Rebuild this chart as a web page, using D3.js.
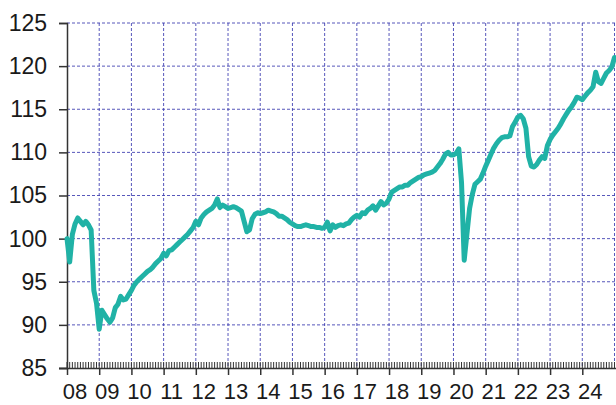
<!DOCTYPE html>
<html>
<head>
<meta charset="utf-8">
<script src="https://cdn.jsdelivr.net/npm/d3@7"></script>
<style>
  html, body { margin: 0; padding: 0; background: #fff; }
  svg { display: block; font-family: "Liberation Sans", Arial, sans-serif; }
</style>
</head>
<body>
<div id="chart"></div>
<script>
// monthly index values, Jan..Dec of each year
const v2008 = [100.0, 97.3, 100.5, 101.7, 102.4, 102.0, 101.6, 102.0, 101.6, 101.0, 94.0, 92.5];
const v2009 = [89.5, 91.7, 91.2, 90.7, 90.3, 90.8, 92.0, 92.4, 93.3, 92.9, 93.0, 93.5];
const v2010 = [94.0, 94.6, 95.0, 95.3, 95.6, 95.9, 96.2, 96.4, 96.7, 97.1, 97.4, 97.7];
const v2011 = [98.3, 98.0, 98.6, 98.7, 99.0, 99.3, 99.6, 99.9, 100.2, 100.5, 100.9, 101.3];
const v2012 = [102.0, 101.6, 102.4, 102.8, 103.1, 103.3, 103.5, 103.9, 104.6, 103.6, 103.9, 103.7];
const v2013 = [103.5, 103.6, 103.7, 103.6, 103.4, 103.2, 102.0, 100.8, 101.0, 102.3, 102.8, 103.0];
const v2014 = [102.9, 103.0, 103.1, 103.3, 103.2, 103.1, 102.9, 102.6, 102.6, 102.4, 102.2, 101.9];
const v2015 = [101.7, 101.5, 101.4, 101.4, 101.5, 101.6, 101.5, 101.4, 101.4, 101.3, 101.3, 101.2];
const v2016 = [101.3, 101.9, 100.9, 101.6, 101.3, 101.5, 101.6, 101.5, 101.7, 101.8, 102.2, 102.5];
const v2017 = [102.7, 102.5, 103.0, 102.9, 103.3, 103.5, 103.8, 103.3, 103.8, 104.3, 103.9, 104.1];
const v2018 = [104.6, 105.4, 105.6, 105.8, 106.0, 106.0, 106.2, 106.2, 106.5, 106.7, 106.9, 107.1];
const v2019 = [107.2, 107.4, 107.5, 107.6, 107.7, 107.9, 108.3, 108.7, 109.2, 109.8, 110.0, 109.7];
const v2020 = [109.7, 109.9, 110.4, 106.5, 97.5, 100.5, 103.5, 105.1, 106.3, 106.6, 106.9, 107.6];
const v2021 = [108.4, 109.1, 109.8, 110.5, 111.0, 111.4, 111.7, 111.8, 111.8, 111.9, 113.0, 113.5];
const v2022 = [114.1, 114.3, 113.9, 112.8, 109.5, 108.4, 108.3, 108.6, 109.1, 109.5, 109.3, 110.8];
const v2023 = [111.5, 112.0, 112.4, 112.8, 113.3, 113.9, 114.4, 114.9, 115.3, 115.8, 116.4, 116.3];
const v2024 = [116.1, 116.5, 116.9, 117.2, 117.6, 119.3, 118.2, 118.0, 118.6, 119.2, 119.5, 119.9];
const v2025 = [121.0];

const yearLabels = ["08", "09", "10", "11", "12", "13", "14", "15", "16", "17", "18", "19", "20", "21", "22", "23", "24"];
const yTicks = [85, 90, 95, 100, 105, 110, 115, 120, 125];

const values = [].concat(v2008, v2009, v2010, v2011, v2012, v2013, v2014, v2015, v2016,
  v2017, v2018, v2019, v2020, v2021, v2022, v2023, v2024, v2025);
const data = values.map((v, i) => ({ t: 2008 + i / 12, v }));

const W = 616, H = 405;
const plot = { left: 67, right: 614.5, top: 23, bottom: 368 };

const svg = d3.select('#chart').append('svg')
  .attr('width', W).attr('height', H);

const x = d3.scaleLinear().domain([2008, 2025]).range([plot.left, plot.right]);
const y = d3.scaleLinear().domain([85, 125]).range([plot.bottom, plot.top]);

const gridColor = '#3b3bb0';

// horizontal grid
svg.append('g').selectAll('line')
  .data(yTicks.filter(d => d > 85))
  .join('line')
  .attr('x1', plot.left).attr('x2', plot.right + 1)
  .attr('y1', d => y(d)).attr('y2', d => y(d))
  .attr('stroke', gridColor).attr('stroke-width', 1)
  .attr('stroke-dasharray', '3,2').attr('opacity', 0.85);

// vertical grid
const yearTicks = d3.range(2009, 2026);
svg.append('g').selectAll('line')
  .data(yearTicks)
  .join('line')
  .attr('x1', d => x(d)).attr('x2', d => x(d))
  .attr('y1', plot.top).attr('y2', plot.bottom)
  .attr('stroke', gridColor).attr('stroke-width', 1)
  .attr('stroke-dasharray', '3,2').attr('opacity', 0.85);

// y axis
const yAxis = svg.append('g')
  .attr('transform', `translate(${plot.left},0)`)
  .call(d3.axisLeft(y).tickValues(yTicks).tickSize(8).tickPadding(12).tickFormat(d3.format('d')));
yAxis.select('.domain').attr('stroke', '#333').attr('stroke-width', 1.5);
yAxis.selectAll('.tick line').attr('stroke', '#333').attr('stroke-width', 1.5);
yAxis.selectAll('.tick text')
  .attr('font-size', '23px').attr('fill', '#1a1a1a')
  .attr('font-family', '"Liberation Sans", Arial, sans-serif');

// x axis: monthly minor ticks upward, yearly major ticks downward
const months = d3.range(0, 205).map(i => 2008 + i / 12);
svg.append('g').selectAll('line')
  .data(months)
  .join('line')
  .attr('x1', d => x(d)).attr('x2', d => x(d))
  .attr('y1', plot.bottom - 6).attr('y2', plot.bottom)
  .attr('stroke', '#333').attr('stroke-width', 1);

const xAxis = svg.append('g')
  .attr('transform', `translate(0,${plot.bottom})`)
  .call(d3.axisBottom(x).tickValues(d3.range(2008, 2025)).tickSize(7).tickFormat(''));
xAxis.select('.domain').attr('stroke', '#333').attr('stroke-width', 1.5)
  .attr('d', `M${plot.left - 8},0.5H${plot.right + 2}`);
xAxis.selectAll('.tick line').attr('stroke', '#333').attr('stroke-width', 1.5);

svg.append('g').selectAll('text')
  .data(yearLabels)
  .join('text')
  .attr('x', (d, i) => x(2008 + i) + 8)
  .attr('y', 399)
  .attr('text-anchor', 'middle')
  .attr('font-size', '22px')
  .attr('fill', '#1a1a1a')
  .text(d => d);

// series line
const line = d3.line()
  .x(d => x(d.t))
  .y(d => y(d.v));

svg.append('path')
  .datum(data)
  .attr('fill', 'none')
  .attr('stroke', '#20b2a6')
  .attr('stroke-width', 5)
  .attr('stroke-linejoin', 'round')
  .attr('stroke-linecap', 'round')
  .attr('d', line);
</script>
</body>
</html>
